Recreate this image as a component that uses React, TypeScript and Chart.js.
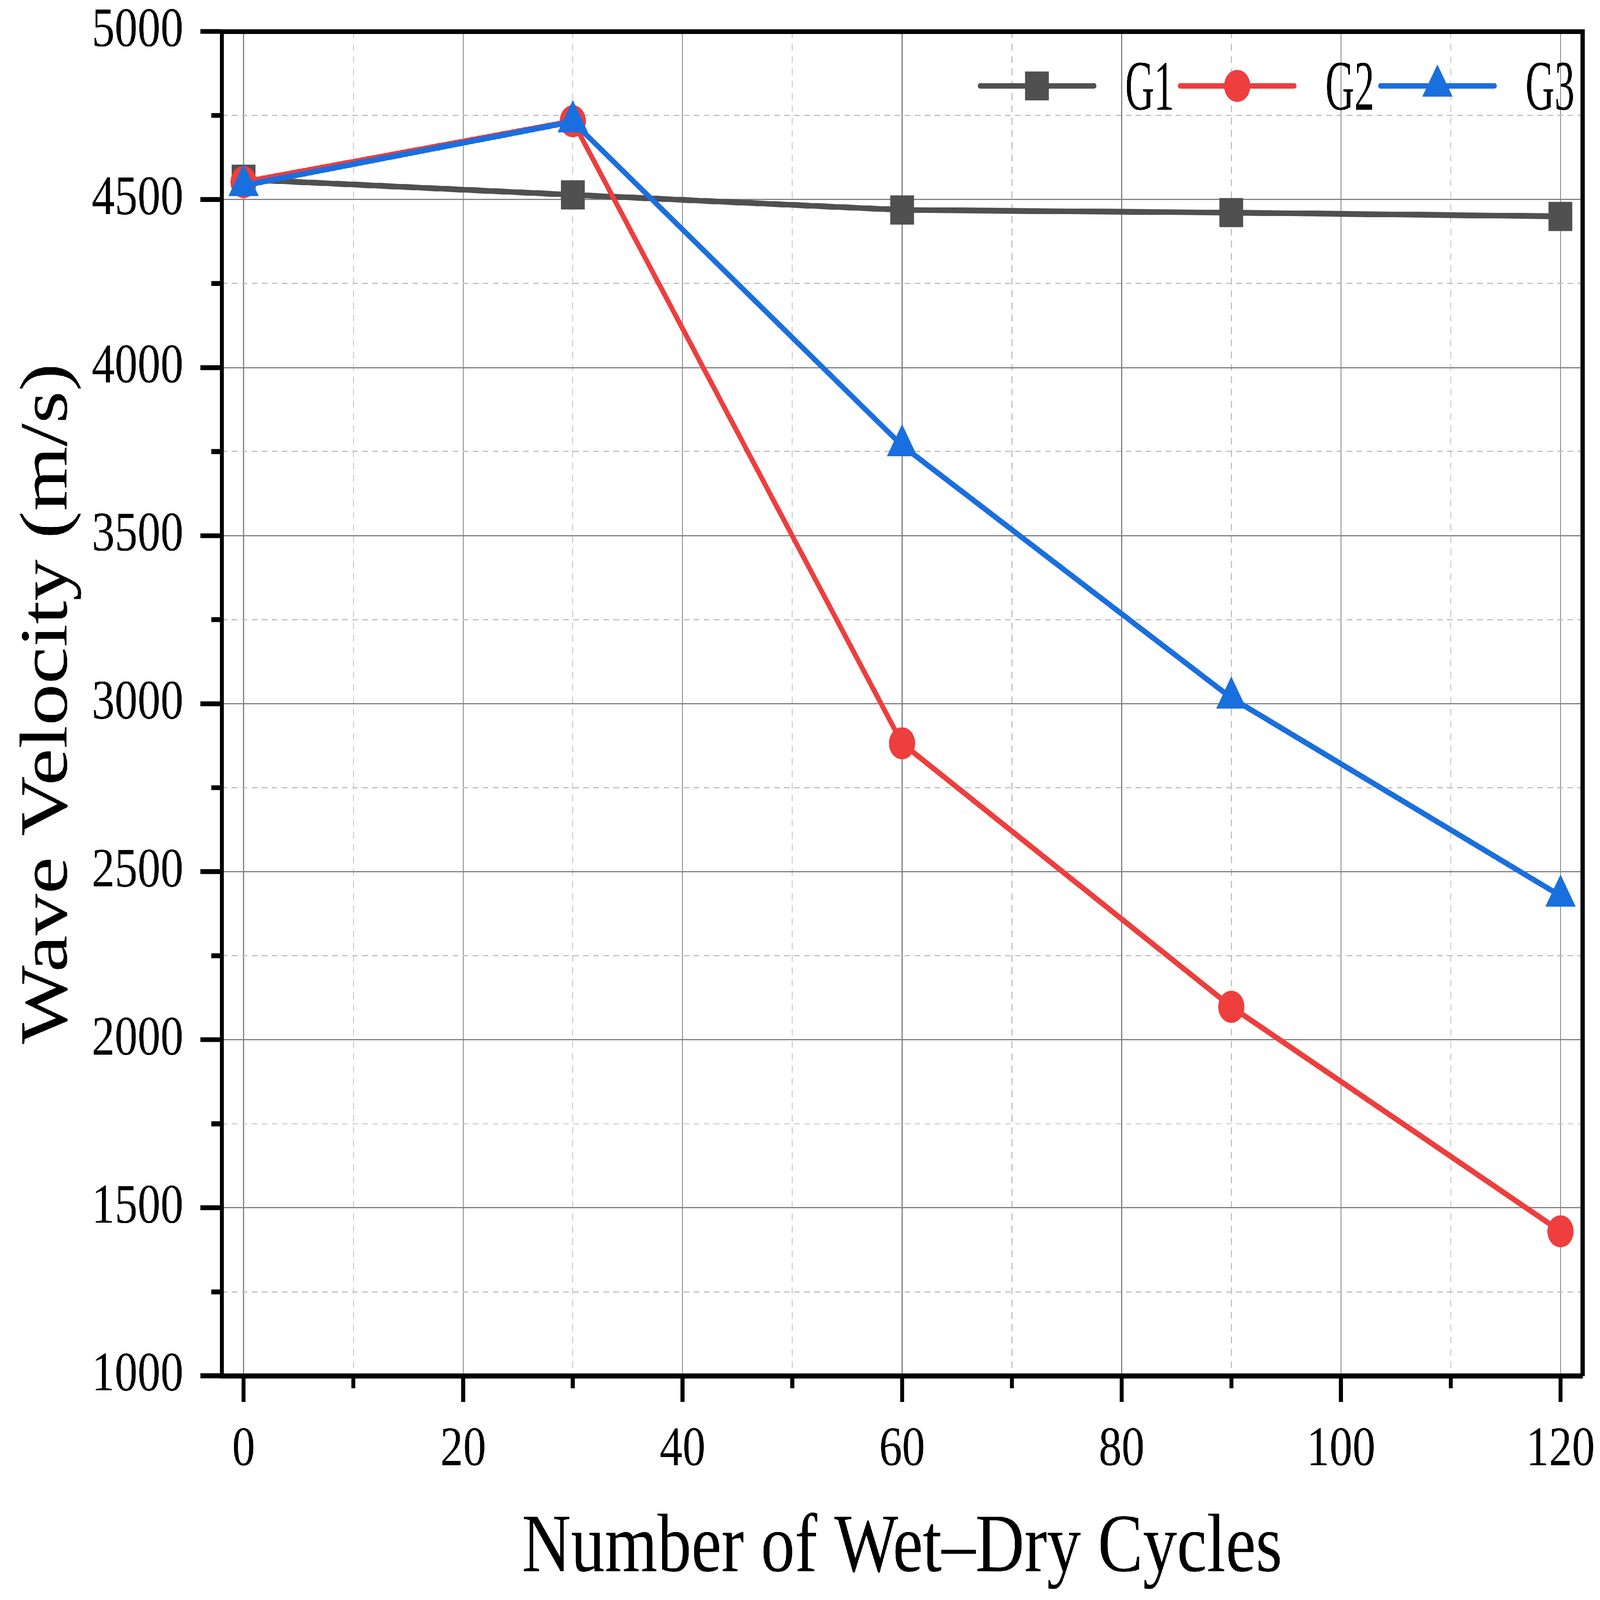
import React, { useEffect, useRef } from "react";
import { Chart, registerables } from "chart.js";
import { drawPoint } from "chart.js/helpers";

Chart.register(...registerables);

// wet-dry cycles on the x axis
const cycles = [0, 30, 60, 90, 120];

// wave velocity (m/s) per group
const g1Velocity = [4560, 4514, 4469, 4461, 4450];
const g2Velocity = [4552, 4733, 2882, 2098, 1430];
const g3Velocity = [4542, 4732, 3768, 3017, 2428];

const seriesNames = ["G1", "G2", "G3"];
const seriesColors = ["#505050", "#ee3e3e", "#1a6fdf"];

// tick positions
const xMajorTicks = [0, 20, 40, 60, 80, 100, 120];
const xMinorTicks = [10, 30, 50, 70, 90, 110];
const yMajorTicks = [1000, 1500, 2000, 2500, 3000, 3500, 4000, 4500, 5000];
const yMinorTicks = [1250, 1750, 2250, 2750, 3250, 3750, 4250, 4750];

const SERIF = "'Liberation Serif', 'Times New Roman', serif";
const BASE_W = 6850;
const BASE_H = 5588;

// legend drawn inside the plot, top right: line + marker + label
const insideLegend = {
  id: "insideLegend",
  afterDatasetsDraw(chart: any) {
    const { ctx, chartArea } = chart;
    const lineLen = 508;
    const pitch = 857;
    const textGap = 123;
    const startX = chartArea.right - 2589;
    const y = chartArea.top + 190;
    chart.data.datasets.forEach((ds: any, i: number) => {
      const x0 = startX + i * pitch;
      ctx.save();
      ctx.strokeStyle = ds.borderColor;
      ctx.lineWidth = ds.borderWidth;
      ctx.lineCap = "round";
      ctx.beginPath();
      ctx.moveTo(x0 + 10, y);
      ctx.lineTo(x0 + lineLen - 10, y);
      ctx.stroke();
      ctx.fillStyle = ds.pointBackgroundColor;
      drawPoint(ctx, { pointStyle: ds.pointStyle, radius: ds.pointRadius, rotation: 0, borderWidth: 0 }, x0 + lineLen / 2, y);
      ctx.fillStyle = "#000";
      ctx.font = `249px ${SERIF}`;
      ctx.textBaseline = "alphabetic";
      ctx.textAlign = "left";
      ctx.translate(x0 + lineLen + textGap, y + 83);
      ctx.scale(0.69, 1);
      ctx.fillText(ds.label, 0, 0);
      ctx.restore();
    });
  },
};

const App: React.FC = () => {
  const chartRef = useRef<HTMLCanvasElement>(null);
  // the window may be smaller than the 6850x5588 design: stretch the whole drawing to it
  const sx = (window.innerWidth || BASE_W) / BASE_W;
  const sy = (window.innerHeight || BASE_H) / BASE_H;

  useEffect(() => {
    document.documentElement.style.overflow = "hidden";
    document.body.style.margin = "0";
    document.body.style.overflow = "hidden";
    if (!chartRef.current) return;

    const toPoints = (vals: number[]) => cycles.map((c, i) => ({ x: c, y: vals[i] }));
    const tickFont = { family: SERIF, size: 196 };
    const titleFont = { family: SERIF, size: 290 };
    const majorGrid = { color: "#808080", lineWidth: 4, tickLength: 91, tickWidth: 17, tickColor: "#000" };
    const minorGrid = { color: "#c0c0c0", lineWidth: 4, tickLength: 44, tickWidth: 17, tickColor: "#000" };
    const axisBorder = { color: "#000", width: 17 };
    const minorBorder = { display: false, dash: [24, 19] };

    const series = (i: number, vals: number[], style: string, radius: number) => ({
      label: seriesNames[i],
      data: toPoints(vals),
      borderColor: seriesColors[i],
      backgroundColor: seriesColors[i],
      pointBackgroundColor: seriesColors[i],
      pointBorderColor: seriesColors[i],
      pointBorderWidth: 0,
      borderWidth: 20,
      pointStyle: style,
      pointRadius: radius,
      order: 3 - i,
    });

    // drop the label overhang padding Chart.js adds, the plot box is fixed
    const noPadX = (s: any) => {
      s.paddingLeft = 0;
      s.paddingRight = 0;
    };
    const noPadY = (s: any) => {
      s.paddingTop = 0;
      s.paddingBottom = 0;
    };

    const chart = new Chart(chartRef.current, {
      type: "line",
      data: {
        datasets: [
          series(0, g1Velocity, "rect", 72),
          series(1, g2Velocity, "circle", 56),
          series(2, g3Velocity, "triangle", 75),
        ],
      },
      options: {
        animation: false,
        responsive: true,
        maintainAspectRatio: false,
        devicePixelRatio: 1,
        events: [],
        layout: { padding: { top: 110, right: 73, left: 0, bottom: 0 } },
        plugins: {
          legend: { display: false },
          tooltip: { enabled: false },
        },
        scales: {
          x: {
            type: "linear",
            position: "bottom",
            weight: 1,
            min: -2,
            max: 122,
            afterBuildTicks: (s: any) => {
              s.ticks = xMajorTicks.map((value) => ({ value }));
            },
            afterFit: (s: any) => {
              s.height = 783;
              noPadX(s);
            },
            ticks: { font: tickFont, color: "#000", padding: 52, maxRotation: 0, autoSkip: false, callback: (v: any) => String(v) },
            grid: majorGrid,
            border: axisBorder,
            title: { display: true, text: "Number of Wet–Dry Cycles", font: titleFont, color: "#000", padding: { top: 0, bottom: 3 } },
          },
          xMinor: {
            type: "linear",
            position: "bottom",
            weight: 0,
            min: -2,
            max: 122,
            afterBuildTicks: (s: any) => {
              s.ticks = xMinorTicks.map((value) => ({ value }));
            },
            afterFit: (s: any) => {
              s.height = 0;
              noPadX(s);
            },
            ticks: { display: false },
            grid: minorGrid,
            border: minorBorder,
          },
          y: {
            type: "linear",
            position: "left",
            weight: 1,
            min: 1000,
            max: 5000,
            afterBuildTicks: (s: any) => {
              s.ticks = yMajorTicks.map((value) => ({ value }));
            },
            afterFit: (s: any) => {
              s.width = 949;
              noPadY(s);
            },
            ticks: { font: tickFont, color: "#000", padding: 73, autoSkip: false, callback: (v: any) => String(v) },
            grid: majorGrid,
            border: axisBorder,
            title: { display: true, text: "Wave Velocity (m/s)", font: titleFont, color: "#000", padding: { top: 35, bottom: 0 } },
          },
          yMinor: {
            type: "linear",
            position: "left",
            weight: 0,
            min: 1000,
            max: 5000,
            afterBuildTicks: (s: any) => {
              s.ticks = yMinorTicks.map((value) => ({ value }));
            },
            afterFit: (s: any) => {
              s.width = 0;
              noPadY(s);
            },
            ticks: { display: false },
            grid: minorGrid,
            border: minorBorder,
          },
          // top and right frame lines
          xTop: {
            type: "linear",
            position: "top",
            min: -2,
            max: 122,
            afterFit: (s: any) => {
              s.height = 0;
              noPadX(s);
            },
            ticks: { display: false },
            grid: { display: false, drawTicks: false },
            border: axisBorder,
          },
          yRight: {
            type: "linear",
            position: "right",
            min: 1000,
            max: 5000,
            afterFit: (s: any) => {
              s.width = 0;
              noPadY(s);
            },
            ticks: { display: false },
            grid: { display: false, drawTicks: false },
            border: axisBorder,
          },
        },
      } as any,
      plugins: [insideLegend],
    });

    return () => {
      chart.destroy();
    };
  }, []);

  return (
    <div
      style={{
        position: "absolute",
        left: 0,
        top: 0,
        width: `${BASE_W}px`,
        height: `${BASE_H}px`,
        background: "#fff",
        transform: `scale(${sx}, ${sy})`,
        transformOrigin: "0 0",
      }}
    >
      <canvas ref={chartRef}></canvas>
    </div>
  );
};

export default App;
